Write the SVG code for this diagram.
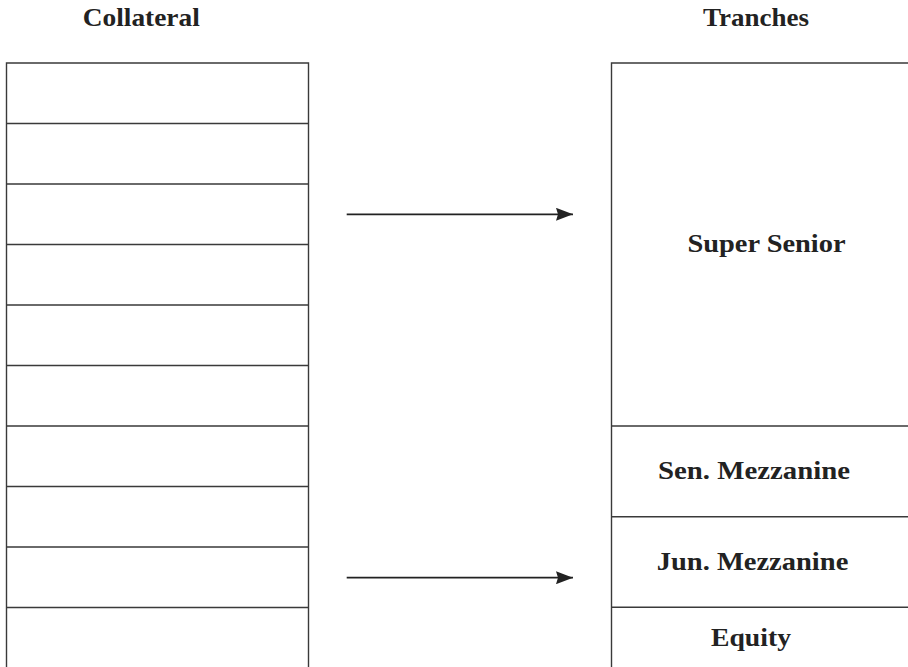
<svg xmlns="http://www.w3.org/2000/svg" width="908" height="667" viewBox="0 0 908 667">
<style>
.bx{fill:none;stroke:#3a3a3a;stroke-width:1.4}
.dv{stroke:#3a3a3a;stroke-width:1.4}
.t{font-family:"Liberation Serif","Times New Roman",serif;font-weight:bold;font-size:26px;fill:#222;text-anchor:middle}
.ar{stroke:#222;stroke-width:1.7;fill:none}
</style>
<defs>
<marker id="ah" viewBox="0 0 17 13" refX="17" refY="6.5" markerWidth="17" markerHeight="13" markerUnits="userSpaceOnUse" orient="auto">
<path d="M0,0 L17,6.5 L0,13 L2,6.5 Z" fill="#222"/>
</marker>
</defs>
<rect width="908" height="667" fill="#fff"/>
<g id="collateral">
<text class="t" x="141.3" y="26" textLength="117" lengthAdjust="spacingAndGlyphs">Collateral</text>
<path class="bx" d="M6.5,667 V63 H308.5 V667"/>
<path class="dv" d="M6.5,123.5 H308.5 M6.5,184 H308.5 M6.5,244.5 H308.5 M6.5,305 H308.5 M6.5,365.5 H308.5 M6.5,426 H308.5 M6.5,486.5 H308.5 M6.5,547 H308.5 M6.5,607.5 H308.5"/>
</g>
<g id="tranches">
<text class="t" x="756" y="26" textLength="106" lengthAdjust="spacingAndGlyphs">Tranches</text>
<path class="bx" d="M611.5,667 V63 H910"/>
<path class="dv" d="M611.5,426 H910 M611.5,516.7 H910 M611.5,607.3 H910"/>
</g>
<g id="super-senior">
<text class="t" x="766.5" y="251.7" textLength="158" lengthAdjust="spacingAndGlyphs">Super Senior</text>
</g>
<g id="sen-mezzanine">
<text class="t" x="754" y="479.3" textLength="192" lengthAdjust="spacingAndGlyphs">Sen. Mezzanine</text>
</g>
<g id="jun-mezzanine">
<text class="t" x="752.5" y="570" textLength="191.6" lengthAdjust="spacingAndGlyphs">Jun. Mezzanine</text>
</g>
<g id="equity">
<text class="t" x="751" y="646" textLength="80" lengthAdjust="spacingAndGlyphs">Equity</text>
</g>
<g id="connectors">
<line class="ar" x1="346.7" y1="214.3" x2="573" y2="214.3" marker-end="url(#ah)"/>
<line class="ar" x1="346.7" y1="577.7" x2="573" y2="577.7" marker-end="url(#ah)"/>
</g>
</svg>
